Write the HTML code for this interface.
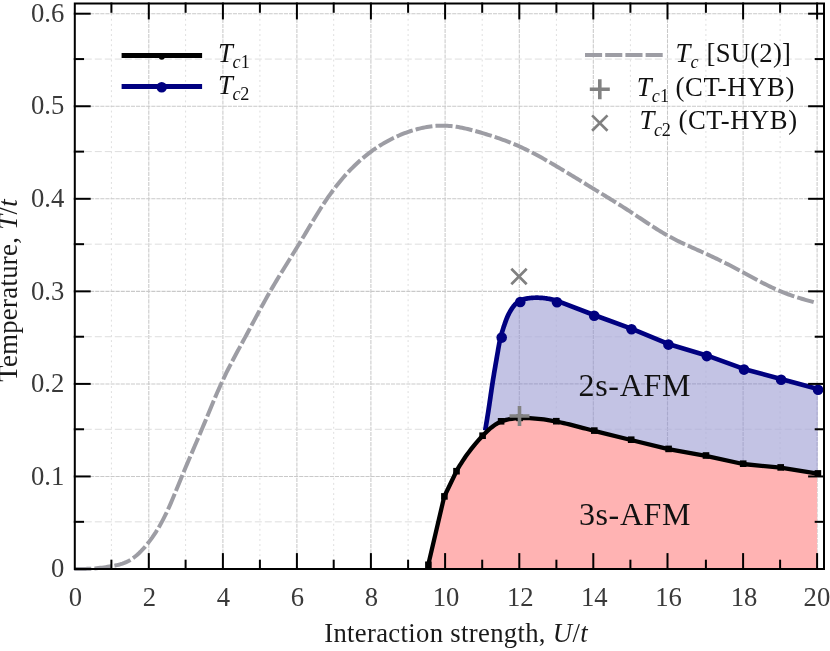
<!DOCTYPE html>
<html><head><meta charset="utf-8"><title>Phase diagram</title>
<style>
html,body{margin:0;padding:0;background:#fff;}
body{width:830px;height:651px;overflow:hidden;font-family:"Liberation Serif", serif;}
svg{display:block;will-change:transform;}
text{font-family:"Liberation Serif", serif;}
</style></head><body>
<svg width="830" height="651" viewBox="0 0 830 651">
<rect width="830" height="651" fill="#ffffff"/>

<defs><clipPath id="cb"><path d="M485.20,430.40 L485.37,429.37 L485.54,428.33 L485.72,427.30 L485.89,426.27 L486.06,425.23 L486.23,424.20 L486.40,423.17 L486.57,422.13 L486.74,421.10 L486.91,420.07 L487.08,419.03 L487.25,418.00 L487.42,416.96 L487.59,415.93 L487.75,414.90 L487.92,413.86 L488.08,412.83 L488.24,411.79 L488.41,410.76 L488.57,409.72 L488.73,408.69 L488.88,407.65 L489.04,406.61 L489.20,405.58 L489.35,404.54 L489.50,403.51 L489.66,402.47 L489.81,401.43 L489.96,400.40 L490.11,399.36 L490.26,398.32 L490.41,397.29 L490.56,396.25 L490.71,395.21 L490.86,394.18 L491.01,393.14 L491.17,392.10 L491.32,391.07 L491.47,390.03 L491.62,388.99 L491.78,387.96 L491.93,386.92 L492.09,385.88 L492.24,384.85 L492.40,383.81 L492.56,382.78 L492.72,381.74 L492.88,380.71 L493.05,379.67 L493.21,378.64 L493.38,377.61 L493.55,376.57 L493.72,375.54 L493.89,374.51 L494.06,373.48 L494.24,372.44 L494.41,371.41 L494.59,370.38 L494.77,369.35 L494.94,368.31 L495.12,367.28 L495.30,366.25 L495.48,365.22 L495.66,364.19 L495.83,363.15 L496.01,362.12 L496.19,361.09 L496.37,360.06 L496.55,359.02 L496.73,357.99 L496.91,356.96 L497.08,355.92 L497.26,354.89 L497.44,353.86 L497.61,352.82 L497.79,351.79 L497.96,350.76 L498.14,349.72 L498.31,348.69 L498.49,347.65 L498.68,346.62 L498.86,345.59 L499.05,344.56 L499.25,343.53 L499.46,342.50 L499.67,341.48 L499.89,340.45 L500.11,339.43 L500.35,338.41 L500.60,337.40 L500.86,336.38 L501.13,335.37 L501.41,334.36 L501.70,333.36 L502.00,332.35 L502.30,331.35 L502.61,330.35 L502.93,329.35 L503.25,328.35 L503.58,327.36 L503.91,326.36 L504.25,325.37 L504.58,324.37 L504.92,323.38 L505.27,322.39 L505.62,321.40 L505.99,320.42 L506.36,319.44 L506.74,318.46 L507.14,317.50 L507.55,316.53 L507.98,315.58 L508.43,314.63 L508.89,313.69 L509.38,312.76 L509.88,311.84 L510.40,310.93 L510.95,310.03 L511.51,309.15 L512.10,308.28 L512.70,307.42 L513.33,306.58 L513.98,305.76 L514.67,304.96 L515.38,304.20 L516.14,303.47 L516.93,302.77 L517.76,302.12 L518.62,301.52 L519.52,300.97 L520.44,300.48 L521.39,300.05 L522.37,299.67 L523.36,299.34 L524.37,299.05 L525.40,298.80 L526.44,298.59 L527.48,298.41 L528.52,298.25 L529.56,298.12 L530.61,298.00 L531.65,297.90 L532.70,297.83 L533.74,297.77 L534.79,297.73 L535.83,297.71 L536.88,297.70 L537.93,297.71 L538.97,297.74 L540.02,297.79 L541.07,297.85 L542.11,297.93 L543.16,298.02 L544.20,298.13 L545.24,298.26 L546.28,298.40 L547.32,298.55 L548.36,298.72 L549.39,298.91 L550.42,299.11 L551.45,299.33 L552.47,299.56 L553.49,299.81 L554.50,300.07 L555.51,300.35 L556.52,300.65 L594.00,315.00 L631.30,328.60 L668.20,343.90 L706.60,355.40 L743.80,368.90 L780.90,379.00 L817.90,389.10 L817.70,473.70 L780.50,467.70 L743.00,464.00 L705.80,455.80 L668.40,449.20 L631.00,440.00 L594.10,430.90 L591.73,430.28 L588.93,429.54 L586.14,428.79 L583.34,428.05 L580.55,427.31 L577.75,426.57 L574.95,425.85 L572.15,425.14 L569.34,424.45 L566.53,423.77 L563.72,423.12 L560.90,422.49 L558.08,421.90 L555.25,421.33 L552.42,420.81 L549.58,420.32 L546.73,419.87 L543.87,419.47 L541.01,419.11 L538.14,418.80 L535.26,418.55 L532.37,418.35 L529.48,418.21 L526.57,418.12 L523.65,418.11 L520.73,418.16 L517.79,418.27 L514.86,418.48 L511.94,418.79 L509.06,419.24 L506.23,419.84 L503.47,420.64 L500.80,421.64 L498.24,422.87 L495.77,424.31 L493.39,425.93 L491.09,427.71 L488.87,429.61 L486.71,431.62 L485.20,433.11 Z"/></clipPath></defs>
<g fill="none" >
<line x1="111.40" y1="3.5" x2="111.40" y2="569.0" stroke="#dedede" stroke-width="1.0" stroke-dasharray="1.9 3.2"/>
<line x1="148.80" y1="3.5" x2="148.80" y2="569.0" stroke="#c9c9c9" stroke-width="1.05" stroke-dasharray="4.1 1.0"/>
<line x1="185.60" y1="3.5" x2="185.60" y2="569.0" stroke="#dedede" stroke-width="1.0" stroke-dasharray="1.9 3.2"/>
<line x1="222.90" y1="3.5" x2="222.90" y2="569.0" stroke="#c9c9c9" stroke-width="1.05" stroke-dasharray="4.1 1.0"/>
<line x1="259.90" y1="3.5" x2="259.90" y2="569.0" stroke="#dedede" stroke-width="1.0" stroke-dasharray="1.9 3.2"/>
<line x1="296.90" y1="3.5" x2="296.90" y2="569.0" stroke="#c9c9c9" stroke-width="1.05" stroke-dasharray="4.1 1.0"/>
<line x1="333.70" y1="3.5" x2="333.70" y2="569.0" stroke="#dedede" stroke-width="1.0" stroke-dasharray="1.9 3.2"/>
<line x1="370.90" y1="3.5" x2="370.90" y2="569.0" stroke="#c9c9c9" stroke-width="1.05" stroke-dasharray="4.1 1.0"/>
<line x1="408.10" y1="3.5" x2="408.10" y2="569.0" stroke="#dedede" stroke-width="1.0" stroke-dasharray="1.9 3.2"/>
<line x1="445.10" y1="3.5" x2="445.10" y2="569.0" stroke="#c9c9c9" stroke-width="1.05" stroke-dasharray="4.1 1.0"/>
<line x1="482.20" y1="3.5" x2="482.20" y2="569.0" stroke="#dedede" stroke-width="1.0" stroke-dasharray="1.9 3.2"/>
<line x1="519.30" y1="3.5" x2="519.30" y2="569.0" stroke="#c9c9c9" stroke-width="1.05" stroke-dasharray="4.1 1.0"/>
<line x1="556.40" y1="3.5" x2="556.40" y2="569.0" stroke="#dedede" stroke-width="1.0" stroke-dasharray="1.9 3.2"/>
<line x1="593.30" y1="3.5" x2="593.30" y2="569.0" stroke="#c9c9c9" stroke-width="1.05" stroke-dasharray="4.1 1.0"/>
<line x1="630.40" y1="3.5" x2="630.40" y2="569.0" stroke="#dedede" stroke-width="1.0" stroke-dasharray="1.9 3.2"/>
<line x1="667.50" y1="3.5" x2="667.50" y2="569.0" stroke="#c9c9c9" stroke-width="1.05" stroke-dasharray="4.1 1.0"/>
<line x1="705.90" y1="3.5" x2="705.90" y2="569.0" stroke="#dedede" stroke-width="1.0" stroke-dasharray="1.9 3.2"/>
<line x1="743.10" y1="3.5" x2="743.10" y2="569.0" stroke="#c9c9c9" stroke-width="1.05" stroke-dasharray="4.1 1.0"/>
<line x1="780.10" y1="3.5" x2="780.10" y2="569.0" stroke="#dedede" stroke-width="1.0" stroke-dasharray="1.9 3.2"/>
<line x1="817.10" y1="3.5" x2="817.10" y2="569.0" stroke="#c9c9c9" stroke-width="1.05" stroke-dasharray="4.1 1.0"/>
<line x1="74.8" y1="521.83" x2="824.0" y2="521.83" stroke="#dedede" stroke-width="1.0" stroke-dasharray="7 3"/>
<line x1="74.8" y1="476.45" x2="824.0" y2="476.45" stroke="#c9c9c9" stroke-width="1.05" stroke-dasharray="4.1 1.0"/>
<line x1="74.8" y1="429.27" x2="824.0" y2="429.27" stroke="#dedede" stroke-width="1.0" stroke-dasharray="7 3"/>
<line x1="74.8" y1="383.90" x2="824.0" y2="383.90" stroke="#c9c9c9" stroke-width="1.05" stroke-dasharray="4.1 1.0"/>
<line x1="74.8" y1="336.73" x2="824.0" y2="336.73" stroke="#dedede" stroke-width="1.0" stroke-dasharray="7 3"/>
<line x1="74.8" y1="291.35" x2="824.0" y2="291.35" stroke="#c9c9c9" stroke-width="1.05" stroke-dasharray="4.1 1.0"/>
<line x1="74.8" y1="244.17" x2="824.0" y2="244.17" stroke="#dedede" stroke-width="1.0" stroke-dasharray="7 3"/>
<line x1="74.8" y1="198.80" x2="824.0" y2="198.80" stroke="#c9c9c9" stroke-width="1.05" stroke-dasharray="4.1 1.0"/>
<line x1="74.8" y1="151.62" x2="824.0" y2="151.62" stroke="#dedede" stroke-width="1.0" stroke-dasharray="7 3"/>
<line x1="74.8" y1="106.25" x2="824.0" y2="106.25" stroke="#c9c9c9" stroke-width="1.05" stroke-dasharray="4.1 1.0"/>
<line x1="74.8" y1="59.07" x2="824.0" y2="59.07" stroke="#dedede" stroke-width="1.0" stroke-dasharray="7 3"/>
<line x1="74.8" y1="13.70" x2="824.0" y2="13.70" stroke="#c9c9c9" stroke-width="1.05" stroke-dasharray="4.1 1.0"/>
</g>
<path d="M428.20,565.00 L444.20,496.70 L456.30,471.50 L456.75,470.68 L458.18,468.19 L459.65,465.72 L461.16,463.27 L462.71,460.85 L464.31,458.46 L465.94,456.09 L467.62,453.75 L469.35,451.43 L471.11,449.13 L472.91,446.86 L474.76,444.61 L476.65,442.38 L478.58,440.18 L480.55,438.00 L482.55,435.84 L484.61,433.70 L486.71,431.62 L488.87,429.61 L491.09,427.71 L493.39,425.93 L495.77,424.31 L498.24,422.87 L500.80,421.64 L503.47,420.64 L506.23,419.84 L509.06,419.24 L511.94,418.79 L514.86,418.48 L517.79,418.27 L520.73,418.16 L523.65,418.11 L526.57,418.12 L529.48,418.21 L532.37,418.35 L535.26,418.55 L538.14,418.80 L541.01,419.11 L543.87,419.47 L546.73,419.87 L549.58,420.32 L552.42,420.81 L555.25,421.33 L558.08,421.90 L560.90,422.49 L563.72,423.12 L566.53,423.77 L569.34,424.45 L572.15,425.14 L574.95,425.85 L577.75,426.57 L580.55,427.31 L583.34,428.05 L586.14,428.79 L588.93,429.54 L591.73,430.28 L594.10,430.90 L631.00,440.00 L668.40,449.20 L705.80,455.80 L743.00,464.00 L780.50,467.70 L817.70,473.70 L817.10,473.70 L817.10,569.00 L428.20,569.00 Z" fill="#ffb3b3" stroke="none"/>
<path d="M485.20,430.40 L485.37,429.37 L485.54,428.33 L485.72,427.30 L485.89,426.27 L486.06,425.23 L486.23,424.20 L486.40,423.17 L486.57,422.13 L486.74,421.10 L486.91,420.07 L487.08,419.03 L487.25,418.00 L487.42,416.96 L487.59,415.93 L487.75,414.90 L487.92,413.86 L488.08,412.83 L488.24,411.79 L488.41,410.76 L488.57,409.72 L488.73,408.69 L488.88,407.65 L489.04,406.61 L489.20,405.58 L489.35,404.54 L489.50,403.51 L489.66,402.47 L489.81,401.43 L489.96,400.40 L490.11,399.36 L490.26,398.32 L490.41,397.29 L490.56,396.25 L490.71,395.21 L490.86,394.18 L491.01,393.14 L491.17,392.10 L491.32,391.07 L491.47,390.03 L491.62,388.99 L491.78,387.96 L491.93,386.92 L492.09,385.88 L492.24,384.85 L492.40,383.81 L492.56,382.78 L492.72,381.74 L492.88,380.71 L493.05,379.67 L493.21,378.64 L493.38,377.61 L493.55,376.57 L493.72,375.54 L493.89,374.51 L494.06,373.48 L494.24,372.44 L494.41,371.41 L494.59,370.38 L494.77,369.35 L494.94,368.31 L495.12,367.28 L495.30,366.25 L495.48,365.22 L495.66,364.19 L495.83,363.15 L496.01,362.12 L496.19,361.09 L496.37,360.06 L496.55,359.02 L496.73,357.99 L496.91,356.96 L497.08,355.92 L497.26,354.89 L497.44,353.86 L497.61,352.82 L497.79,351.79 L497.96,350.76 L498.14,349.72 L498.31,348.69 L498.49,347.65 L498.68,346.62 L498.86,345.59 L499.05,344.56 L499.25,343.53 L499.46,342.50 L499.67,341.48 L499.89,340.45 L500.11,339.43 L500.35,338.41 L500.60,337.40 L500.86,336.38 L501.13,335.37 L501.41,334.36 L501.70,333.36 L502.00,332.35 L502.30,331.35 L502.61,330.35 L502.93,329.35 L503.25,328.35 L503.58,327.36 L503.91,326.36 L504.25,325.37 L504.58,324.37 L504.92,323.38 L505.27,322.39 L505.62,321.40 L505.99,320.42 L506.36,319.44 L506.74,318.46 L507.14,317.50 L507.55,316.53 L507.98,315.58 L508.43,314.63 L508.89,313.69 L509.38,312.76 L509.88,311.84 L510.40,310.93 L510.95,310.03 L511.51,309.15 L512.10,308.28 L512.70,307.42 L513.33,306.58 L513.98,305.76 L514.67,304.96 L515.38,304.20 L516.14,303.47 L516.93,302.77 L517.76,302.12 L518.62,301.52 L519.52,300.97 L520.44,300.48 L521.39,300.05 L522.37,299.67 L523.36,299.34 L524.37,299.05 L525.40,298.80 L526.44,298.59 L527.48,298.41 L528.52,298.25 L529.56,298.12 L530.61,298.00 L531.65,297.90 L532.70,297.83 L533.74,297.77 L534.79,297.73 L535.83,297.71 L536.88,297.70 L537.93,297.71 L538.97,297.74 L540.02,297.79 L541.07,297.85 L542.11,297.93 L543.16,298.02 L544.20,298.13 L545.24,298.26 L546.28,298.40 L547.32,298.55 L548.36,298.72 L549.39,298.91 L550.42,299.11 L551.45,299.33 L552.47,299.56 L553.49,299.81 L554.50,300.07 L555.51,300.35 L556.52,300.65 L594.00,315.00 L631.30,328.60 L668.20,343.90 L706.60,355.40 L743.80,368.90 L780.90,379.00 L817.90,389.10 L817.70,473.70 L780.50,467.70 L743.00,464.00 L705.80,455.80 L668.40,449.20 L631.00,440.00 L594.10,430.90 L591.73,430.28 L588.93,429.54 L586.14,428.79 L583.34,428.05 L580.55,427.31 L577.75,426.57 L574.95,425.85 L572.15,425.14 L569.34,424.45 L566.53,423.77 L563.72,423.12 L560.90,422.49 L558.08,421.90 L555.25,421.33 L552.42,420.81 L549.58,420.32 L546.73,419.87 L543.87,419.47 L541.01,419.11 L538.14,418.80 L535.26,418.55 L532.37,418.35 L529.48,418.21 L526.57,418.12 L523.65,418.11 L520.73,418.16 L517.79,418.27 L514.86,418.48 L511.94,418.79 L509.06,419.24 L506.23,419.84 L503.47,420.64 L500.80,421.64 L498.24,422.87 L495.77,424.31 L493.39,425.93 L491.09,427.71 L488.87,429.61 L486.71,431.62 L485.20,433.11 Z" fill="#c3c3e4" stroke="none"/>
<g fill="none" clip-path="url(#cb)">
<line x1="111.40" y1="3.5" x2="111.40" y2="569.0" stroke="#b9b9da" stroke-width="0.9" stroke-dasharray="1.9 3.2"/>
<line x1="148.80" y1="3.5" x2="148.80" y2="569.0" stroke="#a9a9cc" stroke-width="1.1" stroke-dasharray="4.1 1.0"/>
<line x1="185.60" y1="3.5" x2="185.60" y2="569.0" stroke="#b9b9da" stroke-width="0.9" stroke-dasharray="1.9 3.2"/>
<line x1="222.90" y1="3.5" x2="222.90" y2="569.0" stroke="#a9a9cc" stroke-width="1.1" stroke-dasharray="4.1 1.0"/>
<line x1="259.90" y1="3.5" x2="259.90" y2="569.0" stroke="#b9b9da" stroke-width="0.9" stroke-dasharray="1.9 3.2"/>
<line x1="296.90" y1="3.5" x2="296.90" y2="569.0" stroke="#a9a9cc" stroke-width="1.1" stroke-dasharray="4.1 1.0"/>
<line x1="333.70" y1="3.5" x2="333.70" y2="569.0" stroke="#b9b9da" stroke-width="0.9" stroke-dasharray="1.9 3.2"/>
<line x1="370.90" y1="3.5" x2="370.90" y2="569.0" stroke="#a9a9cc" stroke-width="1.1" stroke-dasharray="4.1 1.0"/>
<line x1="408.10" y1="3.5" x2="408.10" y2="569.0" stroke="#b9b9da" stroke-width="0.9" stroke-dasharray="1.9 3.2"/>
<line x1="445.10" y1="3.5" x2="445.10" y2="569.0" stroke="#a9a9cc" stroke-width="1.1" stroke-dasharray="4.1 1.0"/>
<line x1="482.20" y1="3.5" x2="482.20" y2="569.0" stroke="#b9b9da" stroke-width="0.9" stroke-dasharray="1.9 3.2"/>
<line x1="519.30" y1="3.5" x2="519.30" y2="569.0" stroke="#a9a9cc" stroke-width="1.1" stroke-dasharray="4.1 1.0"/>
<line x1="556.40" y1="3.5" x2="556.40" y2="569.0" stroke="#b9b9da" stroke-width="0.9" stroke-dasharray="1.9 3.2"/>
<line x1="593.30" y1="3.5" x2="593.30" y2="569.0" stroke="#a9a9cc" stroke-width="1.1" stroke-dasharray="4.1 1.0"/>
<line x1="630.40" y1="3.5" x2="630.40" y2="569.0" stroke="#b9b9da" stroke-width="0.9" stroke-dasharray="1.9 3.2"/>
<line x1="667.50" y1="3.5" x2="667.50" y2="569.0" stroke="#a9a9cc" stroke-width="1.1" stroke-dasharray="4.1 1.0"/>
<line x1="705.90" y1="3.5" x2="705.90" y2="569.0" stroke="#b9b9da" stroke-width="0.9" stroke-dasharray="1.9 3.2"/>
<line x1="743.10" y1="3.5" x2="743.10" y2="569.0" stroke="#a9a9cc" stroke-width="1.1" stroke-dasharray="4.1 1.0"/>
<line x1="780.10" y1="3.5" x2="780.10" y2="569.0" stroke="#b9b9da" stroke-width="0.9" stroke-dasharray="1.9 3.2"/>
<line x1="817.10" y1="3.5" x2="817.10" y2="569.0" stroke="#a9a9cc" stroke-width="1.1" stroke-dasharray="4.1 1.0"/>
<line x1="74.8" y1="521.83" x2="824.0" y2="521.83" stroke="#b9b9da" stroke-width="0.9" stroke-dasharray="7 3"/>
<line x1="74.8" y1="476.45" x2="824.0" y2="476.45" stroke="#a9a9cc" stroke-width="1.1" stroke-dasharray="4.1 1.0"/>
<line x1="74.8" y1="429.27" x2="824.0" y2="429.27" stroke="#b9b9da" stroke-width="0.9" stroke-dasharray="7 3"/>
<line x1="74.8" y1="383.90" x2="824.0" y2="383.90" stroke="#a9a9cc" stroke-width="1.1" stroke-dasharray="4.1 1.0"/>
<line x1="74.8" y1="336.73" x2="824.0" y2="336.73" stroke="#b9b9da" stroke-width="0.9" stroke-dasharray="7 3"/>
<line x1="74.8" y1="291.35" x2="824.0" y2="291.35" stroke="#a9a9cc" stroke-width="1.1" stroke-dasharray="4.1 1.0"/>
<line x1="74.8" y1="244.17" x2="824.0" y2="244.17" stroke="#b9b9da" stroke-width="0.9" stroke-dasharray="7 3"/>
<line x1="74.8" y1="198.80" x2="824.0" y2="198.80" stroke="#a9a9cc" stroke-width="1.1" stroke-dasharray="4.1 1.0"/>
<line x1="74.8" y1="151.62" x2="824.0" y2="151.62" stroke="#b9b9da" stroke-width="0.9" stroke-dasharray="7 3"/>
<line x1="74.8" y1="106.25" x2="824.0" y2="106.25" stroke="#a9a9cc" stroke-width="1.1" stroke-dasharray="4.1 1.0"/>
<line x1="74.8" y1="59.07" x2="824.0" y2="59.07" stroke="#b9b9da" stroke-width="0.9" stroke-dasharray="7 3"/>
<line x1="74.8" y1="13.70" x2="824.0" y2="13.70" stroke="#a9a9cc" stroke-width="1.1" stroke-dasharray="4.1 1.0"/>
</g>
<path d="M74.22,569.00 L76.08,568.99 L77.93,568.98 L79.79,568.97 L81.64,568.95 L83.50,568.92 L85.36,568.88 L87.21,568.82 L89.07,568.75 L90.92,568.65 L92.78,568.54 L94.63,568.40 L96.49,568.24 L98.35,568.05 L100.20,567.85 L102.06,567.62 L103.91,567.38 L105.77,567.11 L107.63,566.83 L109.48,566.54 L111.34,566.22 L113.19,565.89 L115.05,565.54 L116.91,565.14 L118.76,564.70 L120.62,564.18 L122.47,563.59 L124.33,562.91 L126.19,562.13 L128.04,561.23 L129.90,560.21 L131.75,559.04 L133.61,557.74 L135.46,556.30 L137.32,554.73 L139.18,553.03 L141.03,551.19 L142.89,549.24 L144.74,547.15 L146.60,544.95 L148.46,542.62 L150.31,540.18 L152.17,537.61 L154.02,534.91 L155.88,532.07 L157.74,529.08 L159.59,525.93 L161.45,522.62 L163.30,519.14 L165.16,515.47 L167.01,511.62 L168.87,507.58 L170.73,503.37 L172.58,499.03 L174.44,494.59 L176.29,490.08 L178.15,485.53 L180.01,480.98 L181.86,476.45 L183.72,471.97 L185.57,467.54 L187.43,463.15 L189.29,458.79 L191.14,454.45 L193.00,450.12 L194.85,445.79 L196.71,441.46 L198.57,437.11 L200.42,432.73 L202.28,428.32 L204.13,423.87 L205.99,419.40 L207.84,414.91 L209.70,410.42 L211.56,405.95 L213.41,401.52 L215.27,397.14 L217.12,392.83 L218.98,388.60 L220.84,384.47 L222.69,380.45 L224.55,376.54 L226.40,372.73 L228.26,369.00 L230.12,365.35 L231.97,361.76 L233.83,358.24 L235.68,354.75 L237.54,351.30 L239.40,347.87 L241.25,344.46 L243.11,341.05 L244.96,337.62 L246.82,334.19 L248.67,330.74 L250.53,327.28 L252.39,323.82 L254.24,320.36 L256.10,316.90 L257.95,313.45 L259.81,310.03 L261.67,306.62 L263.52,303.24 L265.38,299.88 L267.23,296.57 L269.09,293.29 L270.95,290.06 L272.80,286.88 L274.66,283.74 L276.51,280.63 L278.37,277.56 L280.22,274.51 L282.08,271.49 L283.94,268.48 L285.79,265.49 L287.65,262.50 L289.50,259.52 L291.36,256.53 L293.22,253.54 L295.07,250.53 L296.93,247.51 L298.78,244.46 L300.64,241.40 L302.50,238.31 L304.35,235.21 L306.21,232.10 L308.06,229.00 L309.92,225.90 L311.78,222.82 L313.63,219.75 L315.49,216.71 L317.34,213.70 L319.20,210.73 L321.05,207.80 L322.91,204.92 L324.77,202.10 L326.62,199.34 L328.48,196.65 L330.33,194.03 L332.19,191.48 L334.05,188.99 L335.90,186.57 L337.76,184.22 L339.61,181.93 L341.47,179.70 L343.33,177.53 L345.18,175.42 L347.04,173.37 L348.89,171.38 L350.75,169.44 L352.61,167.56 L354.46,165.74 L356.32,163.97 L358.17,162.24 L360.03,160.57 L361.88,158.95 L363.74,157.38 L365.60,155.86 L367.45,154.38 L369.31,152.95 L371.16,151.56 L373.02,150.21 L374.88,148.91 L376.73,147.64 L378.59,146.42 L380.44,145.24 L382.30,144.10 L384.16,143.00 L386.01,141.93 L387.87,140.91 L389.72,139.91 L391.58,138.96 L393.43,138.04 L395.29,137.16 L397.15,136.31 L399.00,135.49 L400.86,134.71 L402.71,133.96 L404.57,133.24 L406.43,132.55 L408.28,131.89 L410.14,131.26 L411.99,130.66 L413.85,130.09 L415.71,129.55 L417.56,129.04 L419.42,128.57 L421.27,128.12 L423.13,127.72 L424.99,127.34 L426.84,127.00 L428.70,126.70 L430.55,126.43 L432.41,126.21 L434.26,126.01 L436.12,125.86 L437.98,125.74 L439.83,125.67 L441.69,125.63 L443.54,125.64 L445.40,125.69 L447.26,125.77 L449.11,125.90 L450.97,126.07 L452.82,126.27 L454.68,126.51 L456.54,126.78 L458.39,127.09 L460.25,127.42 L462.10,127.78 L463.96,128.17 L465.81,128.58 L467.67,129.01 L469.53,129.47 L471.38,129.94 L473.24,130.43 L475.09,130.94 L476.95,131.46 L478.81,132.00 L480.66,132.54 L482.52,133.09 L484.37,133.65 L486.23,134.21 L488.09,134.79 L489.94,135.37 L491.80,135.96 L493.65,136.57 L495.51,137.18 L497.37,137.81 L499.22,138.45 L501.08,139.10 L502.93,139.76 L504.79,140.44 L506.64,141.14 L508.50,141.85 L510.36,142.58 L512.21,143.33 L514.07,144.10 L515.92,144.88 L517.78,145.68 L519.64,146.51 L521.49,147.36 L523.35,148.22 L525.20,149.11 L527.06,150.01 L528.92,150.94 L530.77,151.88 L532.63,152.84 L534.48,153.81 L536.34,154.80 L538.19,155.80 L540.05,156.81 L541.91,157.84 L543.76,158.88 L545.62,159.93 L547.47,160.99 L549.33,162.06 L551.19,163.13 L553.04,164.22 L554.90,165.31 L556.75,166.41 L558.61,167.51 L560.47,168.62 L562.32,169.73 L564.18,170.85 L566.03,171.97 L567.89,173.09 L569.75,174.21 L571.60,175.34 L573.46,176.48 L575.31,177.61 L577.17,178.74 L579.02,179.88 L580.88,181.02 L582.74,182.16 L584.59,183.30 L586.45,184.44 L588.30,185.58 L590.16,186.72 L592.02,187.85 L593.87,188.99 L595.73,190.13 L597.58,191.26 L599.44,192.39 L601.30,193.53 L603.15,194.66 L605.01,195.80 L606.86,196.94 L608.72,198.08 L610.58,199.22 L612.43,200.36 L614.29,201.51 L616.14,202.67 L618.00,203.83 L619.85,204.99 L621.71,206.16 L623.57,207.34 L625.42,208.52 L627.28,209.72 L629.13,210.92 L630.99,212.13 L632.85,213.35 L634.70,214.57 L636.56,215.80 L638.41,217.04 L640.27,218.27 L642.13,219.51 L643.98,220.75 L645.84,221.98 L647.69,223.21 L649.55,224.43 L651.40,225.64 L653.26,226.84 L655.12,228.02 L656.97,229.19 L658.83,230.35 L660.68,231.49 L662.54,232.61 L664.40,233.70 L666.25,234.77 L668.11,235.82 L669.96,236.84 L671.82,237.83 L673.68,238.80 L675.53,239.75 L677.39,240.68 L679.24,241.59 L681.10,242.48 L682.96,243.36 L684.81,244.23 L686.67,245.08 L688.52,245.92 L690.38,246.76 L692.23,247.59 L694.09,248.42 L695.95,249.25 L697.80,250.07 L699.66,250.90 L701.51,251.73 L703.37,252.56 L705.23,253.40 L707.08,254.25 L708.94,255.11 L710.79,255.98 L712.65,256.86 L714.51,257.74 L716.36,258.63 L718.22,259.53 L720.07,260.44 L721.93,261.36 L723.79,262.28 L725.64,263.21 L727.50,264.15 L729.35,265.09 L731.21,266.05 L733.06,267.01 L734.92,267.98 L736.78,268.95 L738.63,269.93 L740.49,270.92 L742.34,271.91 L744.20,272.92 L746.06,273.92 L747.91,274.93 L749.77,275.94 L751.62,276.95 L753.48,277.96 L755.34,278.96 L757.19,279.96 L759.05,280.95 L760.90,281.93 L762.76,282.90 L764.61,283.86 L766.47,284.81 L768.33,285.74 L770.18,286.65 L772.04,287.54 L773.89,288.41 L775.75,289.26 L777.61,290.09 L779.46,290.89 L781.32,291.66 L783.17,292.40 L785.03,293.12 L786.89,293.82 L788.74,294.50 L790.60,295.15 L792.45,295.78 L794.31,296.40 L796.17,297.00 L798.02,297.59 L799.88,298.16 L801.73,298.73 L803.59,299.28 L805.44,299.82 L807.30,300.36 L809.16,300.89 L811.01,301.41 L812.87,301.93 L814.72,302.46" fill="none" stroke="#9d9da4" stroke-width="4.0" stroke-dasharray="17.1 3.1"/>
<path d="M485.20,430.40 L485.37,429.37 L485.54,428.33 L485.72,427.30 L485.89,426.27 L486.06,425.23 L486.23,424.20 L486.40,423.17 L486.57,422.13 L486.74,421.10 L486.91,420.07 L487.08,419.03 L487.25,418.00 L487.42,416.96 L487.59,415.93 L487.75,414.90 L487.92,413.86 L488.08,412.83 L488.24,411.79 L488.41,410.76 L488.57,409.72 L488.73,408.69 L488.88,407.65 L489.04,406.61 L489.20,405.58 L489.35,404.54 L489.50,403.51 L489.66,402.47 L489.81,401.43 L489.96,400.40 L490.11,399.36 L490.26,398.32 L490.41,397.29 L490.56,396.25 L490.71,395.21 L490.86,394.18 L491.01,393.14 L491.17,392.10 L491.32,391.07 L491.47,390.03 L491.62,388.99 L491.78,387.96 L491.93,386.92 L492.09,385.88 L492.24,384.85 L492.40,383.81 L492.56,382.78 L492.72,381.74 L492.88,380.71 L493.05,379.67 L493.21,378.64 L493.38,377.61 L493.55,376.57 L493.72,375.54 L493.89,374.51 L494.06,373.48 L494.24,372.44 L494.41,371.41 L494.59,370.38 L494.77,369.35 L494.94,368.31 L495.12,367.28 L495.30,366.25 L495.48,365.22 L495.66,364.19 L495.83,363.15 L496.01,362.12 L496.19,361.09 L496.37,360.06 L496.55,359.02 L496.73,357.99 L496.91,356.96 L497.08,355.92 L497.26,354.89 L497.44,353.86 L497.61,352.82 L497.79,351.79 L497.96,350.76 L498.14,349.72 L498.31,348.69 L498.49,347.65 L498.68,346.62 L498.86,345.59 L499.05,344.56 L499.25,343.53 L499.46,342.50 L499.67,341.48 L499.89,340.45 L500.11,339.43 L500.35,338.41 L500.60,337.40 L500.86,336.38 L501.13,335.37 L501.41,334.36 L501.70,333.36 L502.00,332.35 L502.30,331.35 L502.61,330.35 L502.93,329.35 L503.25,328.35 L503.58,327.36 L503.91,326.36 L504.25,325.37 L504.58,324.37 L504.92,323.38 L505.27,322.39 L505.62,321.40 L505.99,320.42 L506.36,319.44 L506.74,318.46 L507.14,317.50 L507.55,316.53 L507.98,315.58 L508.43,314.63 L508.89,313.69 L509.38,312.76 L509.88,311.84 L510.40,310.93 L510.95,310.03 L511.51,309.15 L512.10,308.28 L512.70,307.42 L513.33,306.58 L513.98,305.76 L514.67,304.96 L515.38,304.20 L516.14,303.47 L516.93,302.77 L517.76,302.12 L518.62,301.52 L519.52,300.97 L520.44,300.48 L521.39,300.05 L522.37,299.67 L523.36,299.34 L524.37,299.05 L525.40,298.80 L526.44,298.59 L527.48,298.41 L528.52,298.25 L529.56,298.12 L530.61,298.00 L531.65,297.90 L532.70,297.83 L533.74,297.77 L534.79,297.73 L535.83,297.71 L536.88,297.70 L537.93,297.71 L538.97,297.74 L540.02,297.79 L541.07,297.85 L542.11,297.93 L543.16,298.02 L544.20,298.13 L545.24,298.26 L546.28,298.40 L547.32,298.55 L548.36,298.72 L549.39,298.91 L550.42,299.11 L551.45,299.33 L552.47,299.56 L553.49,299.81 L554.50,300.07 L555.51,300.35 L556.52,300.65 L594.00,315.00 L631.30,328.60 L668.20,343.90 L706.60,355.40 L743.80,368.90 L780.90,379.00 L817.90,389.10" fill="none" stroke="#000080" stroke-width="4.7" stroke-linejoin="round"/>
<circle cx="501.70" cy="337.60" r="5.3" fill="#000080"/>
<circle cx="520.30" cy="302.00" r="5.3" fill="#000080"/>
<circle cx="557.00" cy="302.30" r="5.3" fill="#000080"/>
<circle cx="594.20" cy="315.70" r="5.3" fill="#000080"/>
<circle cx="631.50" cy="329.30" r="5.3" fill="#000080"/>
<circle cx="668.40" cy="344.60" r="5.3" fill="#000080"/>
<circle cx="706.80" cy="356.10" r="5.3" fill="#000080"/>
<circle cx="744.00" cy="369.60" r="5.3" fill="#000080"/>
<circle cx="781.10" cy="379.70" r="5.3" fill="#000080"/>
<circle cx="818.10" cy="389.80" r="5.3" fill="#000080"/>
<path d="M428.20,565.00 L444.20,496.70 L456.30,471.50 L456.75,470.68 L458.18,468.19 L459.65,465.72 L461.16,463.27 L462.71,460.85 L464.31,458.46 L465.94,456.09 L467.62,453.75 L469.35,451.43 L471.11,449.13 L472.91,446.86 L474.76,444.61 L476.65,442.38 L478.58,440.18 L480.55,438.00 L482.55,435.84 L484.61,433.70 L486.71,431.62 L488.87,429.61 L491.09,427.71 L493.39,425.93 L495.77,424.31 L498.24,422.87 L500.80,421.64 L503.47,420.64 L506.23,419.84 L509.06,419.24 L511.94,418.79 L514.86,418.48 L517.79,418.27 L520.73,418.16 L523.65,418.11 L526.57,418.12 L529.48,418.21 L532.37,418.35 L535.26,418.55 L538.14,418.80 L541.01,419.11 L543.87,419.47 L546.73,419.87 L549.58,420.32 L552.42,420.81 L555.25,421.33 L558.08,421.90 L560.90,422.49 L563.72,423.12 L566.53,423.77 L569.34,424.45 L572.15,425.14 L574.95,425.85 L577.75,426.57 L580.55,427.31 L583.34,428.05 L586.14,428.79 L588.93,429.54 L591.73,430.28 L594.10,430.90 L631.00,440.00 L668.40,449.20 L705.80,455.80 L743.00,464.00 L780.50,467.70 L817.70,473.70" fill="none" stroke="#000000" stroke-width="4.3" stroke-linejoin="round"/>
<rect x="425.10" y="561.50" width="6.6" height="6.6" fill="#000"/>
<rect x="441.10" y="493.10" width="6.6" height="6.6" fill="#000"/>
<rect x="453.20" y="467.90" width="6.6" height="6.6" fill="#000"/>
<rect x="479.30" y="432.40" width="6.6" height="6.6" fill="#000"/>
<rect x="497.80" y="418.00" width="6.6" height="6.6" fill="#000"/>
<rect x="516.30" y="414.60" width="6.6" height="6.6" fill="#000"/>
<rect x="553.00" y="417.90" width="6.6" height="6.6" fill="#000"/>
<rect x="591.00" y="427.30" width="6.6" height="6.6" fill="#000"/>
<rect x="627.90" y="436.40" width="6.6" height="6.6" fill="#000"/>
<rect x="665.30" y="445.60" width="6.6" height="6.6" fill="#000"/>
<rect x="702.70" y="452.20" width="6.6" height="6.6" fill="#000"/>
<rect x="739.90" y="460.40" width="6.6" height="6.6" fill="#000"/>
<rect x="777.40" y="464.10" width="6.6" height="6.6" fill="#000"/>
<rect x="814.60" y="470.10" width="6.6" height="6.6" fill="#000"/>
<path d="M509.50,416.00 H529.50 M519.50,406.00 V426.00" stroke="#828282" stroke-width="3.6" fill="none"/>
<path d="M511.30,268.80 L526.70,284.20 M511.30,284.20 L526.70,268.80" stroke="#808080" stroke-width="2.7" fill="none"/>
<g stroke="#000" stroke-width="2.0" fill="none">
<line x1="111.40" y1="570.0" x2="111.40" y2="559.7"/>
<line x1="111.40" y1="2.5" x2="111.40" y2="12.8"/>
<line x1="148.80" y1="570.0" x2="148.80" y2="553.1"/>
<line x1="148.80" y1="2.5" x2="148.80" y2="19.4"/>
<line x1="185.60" y1="570.0" x2="185.60" y2="559.7"/>
<line x1="185.60" y1="2.5" x2="185.60" y2="12.8"/>
<line x1="222.90" y1="570.0" x2="222.90" y2="553.1"/>
<line x1="222.90" y1="2.5" x2="222.90" y2="19.4"/>
<line x1="259.90" y1="570.0" x2="259.90" y2="559.7"/>
<line x1="259.90" y1="2.5" x2="259.90" y2="12.8"/>
<line x1="296.90" y1="570.0" x2="296.90" y2="553.1"/>
<line x1="296.90" y1="2.5" x2="296.90" y2="19.4"/>
<line x1="333.70" y1="570.0" x2="333.70" y2="559.7"/>
<line x1="333.70" y1="2.5" x2="333.70" y2="12.8"/>
<line x1="370.90" y1="570.0" x2="370.90" y2="553.1"/>
<line x1="370.90" y1="2.5" x2="370.90" y2="19.4"/>
<line x1="408.10" y1="570.0" x2="408.10" y2="559.7"/>
<line x1="408.10" y1="2.5" x2="408.10" y2="12.8"/>
<line x1="445.10" y1="570.0" x2="445.10" y2="553.1"/>
<line x1="445.10" y1="2.5" x2="445.10" y2="19.4"/>
<line x1="482.20" y1="570.0" x2="482.20" y2="559.7"/>
<line x1="482.20" y1="2.5" x2="482.20" y2="12.8"/>
<line x1="519.30" y1="570.0" x2="519.30" y2="553.1"/>
<line x1="519.30" y1="2.5" x2="519.30" y2="19.4"/>
<line x1="556.40" y1="570.0" x2="556.40" y2="559.7"/>
<line x1="556.40" y1="2.5" x2="556.40" y2="12.8"/>
<line x1="593.30" y1="570.0" x2="593.30" y2="553.1"/>
<line x1="593.30" y1="2.5" x2="593.30" y2="19.4"/>
<line x1="630.40" y1="570.0" x2="630.40" y2="559.7"/>
<line x1="630.40" y1="2.5" x2="630.40" y2="12.8"/>
<line x1="667.50" y1="570.0" x2="667.50" y2="553.1"/>
<line x1="667.50" y1="2.5" x2="667.50" y2="19.4"/>
<line x1="705.90" y1="570.0" x2="705.90" y2="559.7"/>
<line x1="705.90" y1="2.5" x2="705.90" y2="12.8"/>
<line x1="743.10" y1="570.0" x2="743.10" y2="553.1"/>
<line x1="743.10" y1="2.5" x2="743.10" y2="19.4"/>
<line x1="780.10" y1="570.0" x2="780.10" y2="559.7"/>
<line x1="780.10" y1="2.5" x2="780.10" y2="12.8"/>
<line x1="817.10" y1="570.0" x2="817.10" y2="553.1"/>
<line x1="817.10" y1="2.5" x2="817.10" y2="19.4"/>
<line x1="73.8" y1="521.83" x2="84.1" y2="521.83"/>
<line x1="825.0" y1="521.83" x2="814.7" y2="521.83"/>
<line x1="73.8" y1="476.45" x2="90.7" y2="476.45"/>
<line x1="825.0" y1="476.45" x2="808.1" y2="476.45"/>
<line x1="73.8" y1="429.27" x2="84.1" y2="429.27"/>
<line x1="825.0" y1="429.27" x2="814.7" y2="429.27"/>
<line x1="73.8" y1="383.90" x2="90.7" y2="383.90"/>
<line x1="825.0" y1="383.90" x2="808.1" y2="383.90"/>
<line x1="73.8" y1="336.73" x2="84.1" y2="336.73"/>
<line x1="825.0" y1="336.73" x2="814.7" y2="336.73"/>
<line x1="73.8" y1="291.35" x2="90.7" y2="291.35"/>
<line x1="825.0" y1="291.35" x2="808.1" y2="291.35"/>
<line x1="73.8" y1="244.17" x2="84.1" y2="244.17"/>
<line x1="825.0" y1="244.17" x2="814.7" y2="244.17"/>
<line x1="73.8" y1="198.80" x2="90.7" y2="198.80"/>
<line x1="825.0" y1="198.80" x2="808.1" y2="198.80"/>
<line x1="73.8" y1="151.62" x2="84.1" y2="151.62"/>
<line x1="825.0" y1="151.62" x2="814.7" y2="151.62"/>
<line x1="73.8" y1="106.25" x2="90.7" y2="106.25"/>
<line x1="825.0" y1="106.25" x2="808.1" y2="106.25"/>
<line x1="73.8" y1="59.07" x2="84.1" y2="59.07"/>
<line x1="825.0" y1="59.07" x2="814.7" y2="59.07"/>
<line x1="73.8" y1="13.70" x2="90.7" y2="13.70"/>
<line x1="825.0" y1="13.70" x2="808.1" y2="13.70"/>
</g>
<rect x="74.8" y="3.5" width="749.2" height="565.5" fill="none" stroke="#000" stroke-width="2.0"/>
<g font-size="26.67" fill="#3a3a3a">
<text x="75.40" y="606.0" text-anchor="middle">0</text>
<text x="149.40" y="606.0" text-anchor="middle">2</text>
<text x="223.50" y="606.0" text-anchor="middle">4</text>
<text x="297.50" y="606.0" text-anchor="middle">6</text>
<text x="371.50" y="606.0" text-anchor="middle">8</text>
<text x="446.10" y="606.0" text-anchor="middle">10</text>
<text x="520.30" y="606.0" text-anchor="middle">12</text>
<text x="594.30" y="606.0" text-anchor="middle">14</text>
<text x="668.50" y="606.0" text-anchor="middle">16</text>
<text x="744.10" y="606.0" text-anchor="middle">18</text>
<text x="816.90" y="606.0" text-anchor="middle">20</text>
<text x="64.3" y="577.20" text-anchor="end">0</text>
<text x="64.3" y="484.65" text-anchor="end">0.1</text>
<text x="64.3" y="392.10" text-anchor="end">0.2</text>
<text x="64.3" y="299.55" text-anchor="end">0.3</text>
<text x="64.3" y="207.00" text-anchor="end">0.4</text>
<text x="64.3" y="114.45" text-anchor="end">0.5</text>
<text x="64.3" y="21.90" text-anchor="end">0.6</text>
</g>
<text x="324.2" y="641.6" font-size="26.67" fill="#1a1a1a" textLength="263.4">Interaction strength, <tspan font-style="italic">U</tspan>/<tspan font-style="italic">t</tspan></text>
<text transform="translate(17.2,381.8) rotate(-90)" font-size="26.67" fill="#1a1a1a" textLength="182.4">Temperature, <tspan font-style="italic">T</tspan>/<tspan font-style="italic">t</tspan></text>
<text x="578.5" y="396.3" font-size="32" fill="#111" textLength="112">2s-AFM</text>
<text x="578.9" y="524.8" font-size="32" fill="#111" textLength="111.6">3s-AFM</text>
<line x1="121.6" y1="55.5" x2="202.1" y2="55.5" stroke="#000" stroke-width="4.8"/>
<circle cx="161.8" cy="56.8" r="3.0" fill="#000"/>
<line x1="121.6" y1="86.5" x2="202.1" y2="86.5" stroke="#000080" stroke-width="4.8"/>
<circle cx="161.7" cy="87.2" r="5.3" fill="#000080"/>
<text x="217.9" y="61.9" font-size="26.67" fill="#111" font-style="italic">T</text><text x="232.4" y="68.10" font-size="18.2" fill="#111" font-style="italic">c</text><text x="240.7" y="68.10" font-size="18.2" fill="#111">1</text>
<text x="217.9" y="93.7" font-size="26.67" fill="#111" font-style="italic">T</text><text x="232.4" y="99.90" font-size="18.2" fill="#111" font-style="italic">c</text><text x="240.3" y="99.90" font-size="18.2" fill="#111">2</text>
<line x1="585" y1="55.0" x2="662.8" y2="55.0" stroke="#9d9da4" stroke-width="4.0" stroke-dasharray="17.1 3.1"/>
<path d="M589.80,89.30 H609.80 M599.80,79.30 V99.30" stroke="#828282" stroke-width="3.6" fill="none"/>
<path d="M592.10,115.40 L607.50,130.80 M592.10,130.80 L607.50,115.40" stroke="#808080" stroke-width="2.7" fill="none"/>
<text x="675.6" y="61.6" font-size="26.67" fill="#111" font-style="italic">T</text><text x="690.6" y="67.80" font-size="18.2" fill="#111" font-style="italic">c</text><text x="706.5" y="61.6" font-size="26.67" fill="#111" textLength="84.4">[SU(2)]</text>
<text x="636.7" y="96.1" font-size="26.67" fill="#111" font-style="italic">T</text><text x="651.7" y="102.30" font-size="18.2" fill="#111" font-style="italic">c</text><text x="660.1" y="102.30" font-size="18.2" fill="#111">1</text><text x="675.6" y="96.1" font-size="26.67" fill="#111" textLength="118.7">(CT-HYB)</text>
<text x="639.6" y="129.3" font-size="26.67" fill="#111" font-style="italic">T</text><text x="653.9" y="135.50" font-size="18.2" fill="#111" font-style="italic">c</text><text x="661.7" y="135.50" font-size="18.2" fill="#111">2</text><text x="678.5" y="129.3" font-size="26.67" fill="#111" textLength="118.6">(CT-HYB)</text>
</svg></body></html>
